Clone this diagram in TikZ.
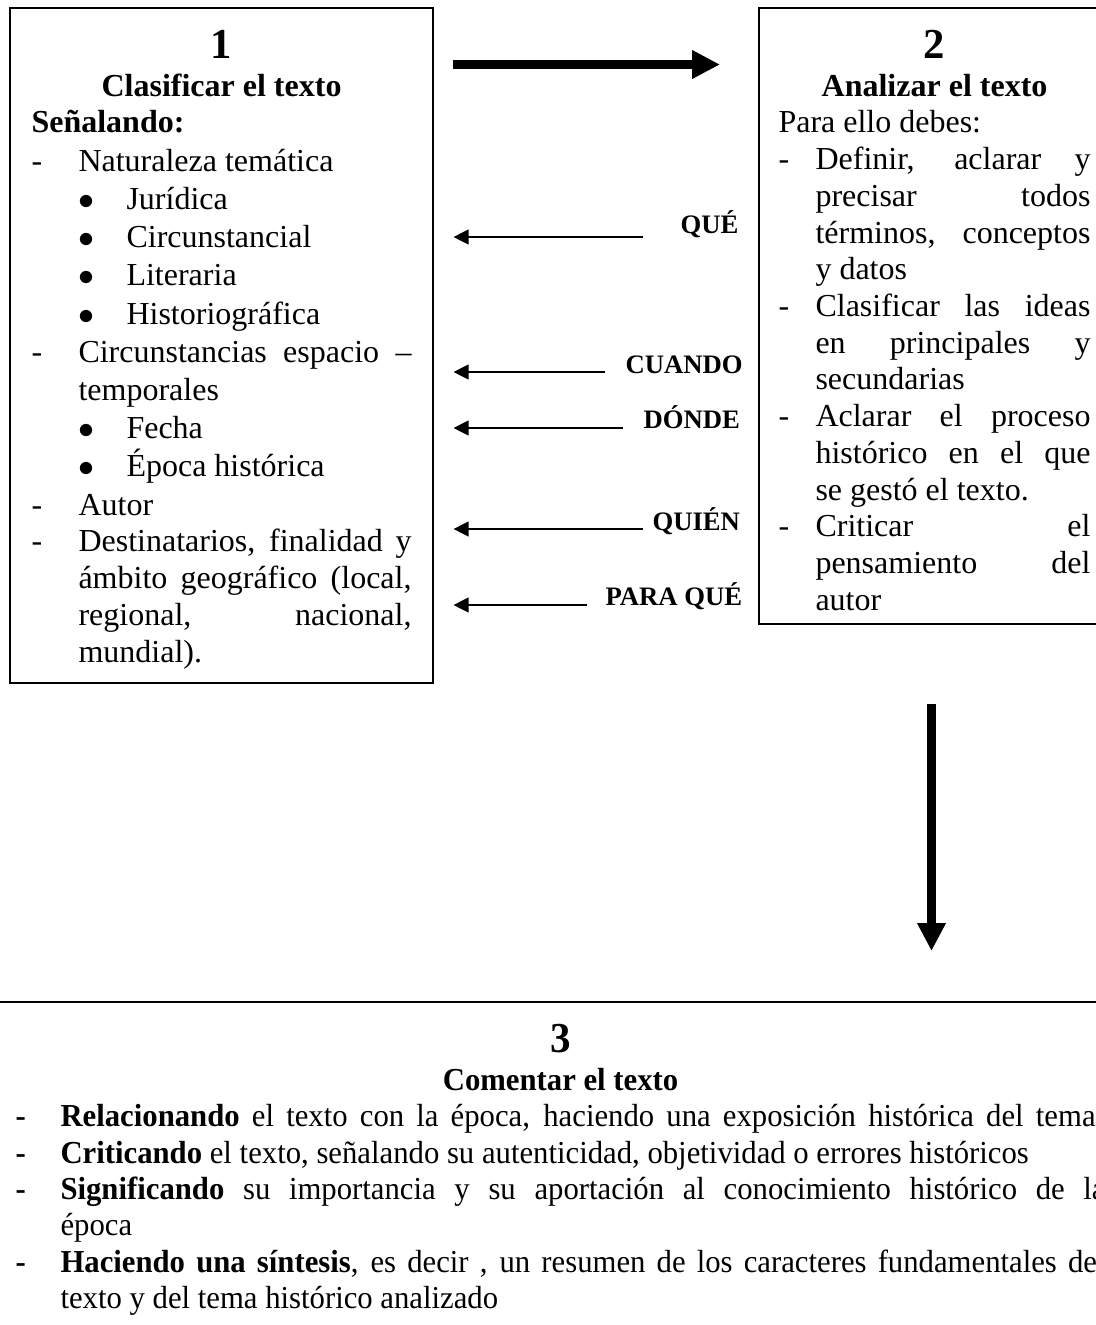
\documentclass[tikz,border=0pt]{standalone}
\usepackage{fontspec}
\setmainfont{Liberation Serif}
\newfontfamily\estrecha[FakeStretch=0.96]{Liberation Serif}
\usetikzlibrary{arrows.meta,calc}

% one pixel of the page
\newdimen\px \px=0.375pt

% list items with hanging indent
\newcommand{\guion}[2][47]{\par\hangindent=#1\px\hangafter=1\noindent\makebox[#1\px][l]{-}#2}
\newcommand{\guionb}[2][45]{\par\hangindent=#1\px\hangafter=1\noindent\makebox[#1\px][l]{\textbf{-}}#2}
\newcommand{\punto}[1]{\par\hangindent=95\px\hangafter=1\noindent\hspace*{47\px}\makebox[48\px][l]{$\bullet$}#1}

\begin{document}
\begin{tikzpicture}[x=0.375pt, y=-0.375pt,
  marco/.style={draw, line width=0.6pt, inner sep=0pt, anchor=north west},
  cuerpo/.style={inner sep=0pt, anchor=base west, font=\fontsize{12}{14.6}\selectfont},
  etiqueta/.style={inner sep=0pt, anchor=base west, font=\fontsize{10}{12}\selectfont\bfseries},
  flechagruesa/.style={line width=3.375pt, -{Triangle[length=10.5pt,width=10.1pt]}},
  flechafina/.style={line width=0.5pt, -{Triangle[length=5.6pt,width=5.6pt]}}]

% --- Page ---
\useasboundingbox (0,0) rectangle (1096,1325);
\clip (0,0) rectangle (1096,1325);

% --- Frames ---
\node[marco, minimum width=423\px, minimum height=675\px] (box1) at (9,7) {};
\node[marco, minimum width=350\px, minimum height=616\px] (box2) at (758,7) {};
\node[marco, minimum width=1140\px, minimum height=400\px] (box3) at (-10,1001) {};

% --- Box 1 ---
\node[cuerpo] (txt1) at (31,58) {\parbox[t]{380\px}{%
  {\centering\fontsize{16}{14.6}\selectfont\bfseries 1\par}
  {\centering\bfseries Clasificar el texto\par}
  \fontsize{12}{13.5}\selectfont
  \noindent\textbf{Señalando:}\par
  \fontsize{12}{14.33}\selectfont
  \guion{Naturaleza temática}
  \punto{Jurídica}
  \punto{Circunstancial}
  \punto{Literaria}
  \punto{Historiográfica}
  \guion{Circunstancias espacio –\linebreak temporales}
  \punto{Fecha}
  \punto{Época histórica}
  \guion{Autor}\par
  \fontsize{12}{13.8}\selectfont
  \guion{Destinatarios, finalidad y\linebreak ámbito geográfico (local,\linebreak
    regional, nacional,\linebreak mundial).}\par}};

% --- Box 2 ---
\node[cuerpo] (txt2) at (778,58) {\parbox[t]{312\px}{%
  {\centering\fontsize{16}{14.6}\selectfont\bfseries 2\par}
  {\centering\bfseries Analizar el texto\par}
  \fontsize{12}{13.5}\selectfont
  \noindent Para ello debes:\par
  \fontsize{12}{13.77}\selectfont
  \guion[37]{Definir, aclarar y\linebreak precisar todos\linebreak
    términos, conceptos\linebreak y datos}
  \guion[37]{Clasificar las ideas\linebreak en principales y\linebreak secundarias}
  \guion[37]{Aclarar el proceso\linebreak histórico en el que\linebreak se gestó el texto.}
  \guion[37]{Criticar el\linebreak pensamiento del\linebreak autor}\par}};

% --- Box 3 ---
\node[cuerpo] (txt3) at (15,1052) {\parbox[t]{1090\px}{%
  \estrecha
  {\centering\fontsize{16}{14.25}\selectfont\bfseries 3\par}
  {\centering\bfseries Comentar el texto\par}
  \fontsize{12}{13.5}\selectfont
  {\parfillskip=0pt \rightskip=10\px
  \guionb{\textbf{Relacionando} el texto con la época, haciendo una exposición histórica del tema}\par}
  \fontsize{12}{13.6}\selectfont
  \guionb{\textbf{Criticando} el texto, señalando su autenticidad, objetividad o errores históricos}
  \guionb{\textbf{Significando} su importancia y su aportación al conocimiento histórico de la\linebreak época}
  \guionb{\textbf{Haciendo una síntesis}, es decir , un resumen de los caracteres fundamentales del\linebreak
    texto y del tema histórico analizado}\par}};

% --- Main arrows ---
\draw[flechagruesa] ($(box1.north east)+(19,57.5)$) -- ($(box2.north west)+(-38,57.5)$);
\draw[flechagruesa] ($(box2.south west)+(173.5,79)$) -- ($(box3.north west)+(941.5,-50)$);

% --- Questions ---
\foreach \nombre/\palabra/\lx/\ly/\hueco/\dy in {que/QUÉ/680/233/37/4,
    cuando/CUANDO/625/373/20/-1, donde/DÓNDE/643/428/20/0,
    quien/QUIÉN/652/530/9/-1, paraque/PARA QUÉ/605/605/18/0} {
  \node[etiqueta] (\nombre) at (\lx,\ly) {\palabra};
  \draw[flechafina] ($(\nombre.base west)+(-\hueco,\dy)$) -- ($(box1.east |- \nombre.base)+(20,\dy)$);
}

\end{tikzpicture}
\end{document}
